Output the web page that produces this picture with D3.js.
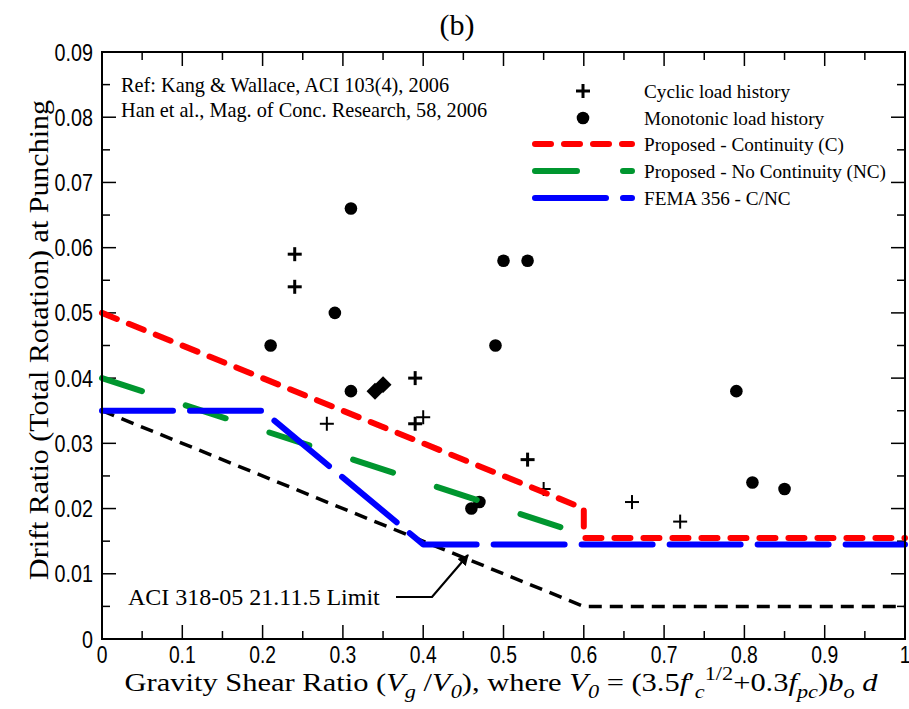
<!DOCTYPE html>
<html><head><meta charset="utf-8">
<script src="https://cdn.jsdelivr.net/npm/d3@7"></script>
<style>
body{margin:0;background:#fff;}
svg{display:block;}
</style></head>
<body>
<svg id="chart" width="909" height="709"></svg>
<script>
// ---------- data ----------
const xTicks = [0,0.1,0.2,0.3,0.4,0.5,0.6,0.7,0.8,0.9,1];
const xTickLabels = ["0","0.1","0.2","0.3","0.4","0.5","0.6","0.7","0.8","0.9","1"];
const yTicks = [0,0.01,0.02,0.03,0.04,0.05,0.06,0.07,0.08,0.09];
const yTickLabels = ["0","0.01","0.02","0.03","0.04","0.05","0.06","0.07","0.08","0.09"];

const cyclicX = [0.24,0.24,0.28,0.39,0.39,0.40,0.53,0.55,0.66,0.72];
const cyclicY = [0.059,0.054,0.033,0.040,0.033,0.034,0.0275,0.023,0.021,0.018];
const monoX = [0.21,0.29,0.31,0.31,0.46,0.47,0.49,0.50,0.53,0.79,0.81,0.85];
const monoY = [0.045,0.050,0.066,0.038,0.020,0.021,0.045,0.058,0.058,0.038,0.024,0.023];
const diamondX = [0.34,0.35];
const diamondY = [0.038,0.039];

const contX = [0,0.6,0.6,1];       const contY = [0.05,0.02,0.0155,0.0155];
const noContX = [0,0.6];           const noContY = [0.04,0.016];
const femaX = [0,0.2,0.4,1];       const femaY = [0.035,0.035,0.0145,0.0145];
const aciX = [0,0.6,1];            const aciY = [0.035,0.005,0.005];

const legendLabels = ["Cyclic load history","Monotonic load history","Proposed - Continuity (C)","Proposed - No Continuity (NC)","FEMA 356 - C/NC"];
const refLines = ["Ref: Kang & Wallace, ACI 103(4), 2006","Han et al., Mag. of Conc. Research, 58, 2006"];

// ---------- layout ----------
const svg = d3.select("#chart");
const L = 102, R = 905, T = 52, B = 639;
const x = d3.scaleLinear().domain([0,1]).range([L,R]);
const y = d3.scaleLinear().domain([0,0.09]).range([B,T]);
const serif = "'Liberation Serif','Times New Roman',serif";
const sans = "'Liberation Sans',Arial,sans-serif";

// ticks (inside, all four sides)
const xMinor = d3.range(0.05,1,0.1);
const yMinor = d3.range(0.005,0.09,0.01);
const tk = svg.append("g").attr("stroke","#000").attr("stroke-width",1.5);
xTicks.slice(1,-1).forEach(v=>{
  tk.append("line").attr("x1",x(v)).attr("x2",x(v)).attr("y1",B).attr("y2",B-14);
  tk.append("line").attr("x1",x(v)).attr("x2",x(v)).attr("y1",T).attr("y2",T+14);
});
xMinor.forEach(v=>{
  tk.append("line").attr("x1",x(v)).attr("x2",x(v)).attr("y1",B).attr("y2",B-8);
  tk.append("line").attr("x1",x(v)).attr("x2",x(v)).attr("y1",T).attr("y2",T+8);
});
yTicks.slice(1,-1).forEach(v=>{
  tk.append("line").attr("x1",L).attr("x2",L+14).attr("y1",y(v)).attr("y2",y(v));
  tk.append("line").attr("x1",R).attr("x2",R-14).attr("y1",y(v)).attr("y2",y(v));
});
yMinor.forEach(v=>{
  tk.append("line").attr("x1",L).attr("x2",L+8).attr("y1",y(v)).attr("y2",y(v));
  tk.append("line").attr("x1",R).attr("x2",R-8).attr("y1",y(v)).attr("y2",y(v));
});

// tick labels (condensed sans)
const sx = 0.84;
svg.append("g").selectAll("text").data(xTicks).join("text")
  .attr("transform",d=>`translate(${x(d)},${B+24}) scale(${sx},1)`).attr("text-anchor","middle")
  .attr("font-family",sans).attr("font-size",23)
  .text((d,i)=>xTickLabels[i]);
svg.append("g").selectAll("text").data(yTicks).join("text")
  .attr("transform",d=>`translate(${L-9},${y(d)+8.5}) scale(${sx},1)`).attr("text-anchor","end")
  .attr("font-family",sans).attr("font-size",23.5)
  .text((d,i)=>yTickLabels[i]);

// ---------- points ----------
const pts = svg.append("g");
monoX.forEach((v,i)=>{
  pts.append("circle").attr("cx",x(v)).attr("cy",y(monoY[i])).attr("r",6.3).attr("fill","#000");
});
cyclicX.forEach((v,i)=>{
  const cx=x(v), cy=y(cyclicY[i]);
  const g=pts.append("g").attr("stroke","#000").attr("stroke-width",i<2||i===3||i===4||i===6?3:2);
  g.append("line").attr("x1",cx-7).attr("x2",cx+7).attr("y1",cy).attr("y2",cy);
  g.append("line").attr("x1",cx).attr("x2",cx).attr("y1",cy-7).attr("y2",cy+7);
});
diamondX.forEach((v,i)=>{
  pts.append("rect").attr("x",-6).attr("y",-6).attr("width",12).attr("height",12)
    .attr("transform",`translate(${x(v)},${y(diamondY[i])}) rotate(45)`).attr("fill","#000");
});

// ---------- lines ----------
function drawLine(xs,ys,color,w,dash,cap){
  const line = d3.line().x(d=>x(d[0])).y(d=>y(d[1]));
  svg.append("path").datum(xs.map((v,i)=>[v,ys[i]]))
    .attr("d",line).attr("fill","none").attr("stroke",color)
    .attr("stroke-width",w).attr("stroke-dasharray",dash)
    .attr("stroke-linecap",cap).attr("stroke-linejoin","round");
}
drawLine(aciX,aciY,"#000",3.5,"13,8","butt");
drawLine(noContX,noContY,"#00962f",6,"42,46","round");
drawLine(femaX,femaY,"#0000ff",6,"71,17","round");
drawLine(contX,contY,"#ff0000",6,"16,13","round");

// frame
svg.append("rect").attr("x",L).attr("y",T).attr("width",R-L).attr("height",B-T)
  .attr("fill","none").attr("stroke","#000").attr("stroke-width",2);

// ---------- legend ----------
const lg = svg.append("g");
const lgY = [91,118,144,171,198];
lg.append("line").attr("x1",576).attr("x2",590).attr("y1",lgY[0]).attr("y2",lgY[0]).attr("stroke","#000").attr("stroke-width",3);
lg.append("line").attr("x1",583).attr("x2",583).attr("y1",lgY[0]-7).attr("y2",lgY[0]+7).attr("stroke","#000").attr("stroke-width",3);
lg.append("circle").attr("cx",583).attr("cy",lgY[1]).attr("r",6.3).attr("fill","#000");
[["#ff0000","16,13"],["#00962f","42,46"],["#0000ff","71,17"]].forEach((s,i)=>{
  lg.append("line").attr("x1",535).attr("x2",632).attr("y1",lgY[i+2]).attr("y2",lgY[i+2])
    .attr("stroke",s[0]).attr("stroke-width",6).attr("stroke-dasharray",s[1]).attr("stroke-linecap","round");
});
lg.selectAll("text.lt").data(legendLabels).join("text")
  .attr("x",644).attr("y",(d,i)=>lgY[i]+6.5).attr("font-family",serif).attr("font-size",19.2)
  .text(d=>d);

// reference note
svg.append("g").selectAll("text").data(refLines).join("text")
  .attr("x",121).attr("y",(d,i)=>92+i*25).attr("font-family",serif).attr("font-size",20.3)
  .text(d=>d);

// ACI annotation
svg.append("text").attr("x",128).attr("y",605).attr("font-family",serif).attr("font-size",24)
  .text("ACI 318-05 21.11.5 Limit");
svg.append("defs").append("marker").attr("id","ah").attr("viewBox","0 0 10 10")
  .attr("refX",9).attr("refY",5).attr("markerWidth",5).attr("markerHeight",5).attr("orient","auto")
  .append("path").attr("d","M0,0 L10,5 L0,10 z").attr("fill","#000");
svg.append("path").attr("d","M396,597 L432,597 L468,555").attr("fill","none")
  .attr("stroke","#000").attr("stroke-width",2.2).attr("marker-end","url(#ah)");

// title
svg.append("text").attr("x",457).attr("y",35).attr("text-anchor","middle")
  .attr("font-family",serif).attr("font-size",30).text("(b)");

// y axis title (fit to target length)
const yt = svg.append("text").attr("text-anchor","middle")
  .attr("font-family",serif).attr("font-size",28).text("Drift Ratio (Total Rotation) at Punching");
{
  const w = yt.node().getComputedTextLength();
  const k = 480 / w;
  yt.attr("transform",`translate(48,340) rotate(-90) scale(${k},1)`);
}

// x axis title: [text, italic, dy, fontSize]
const xt = svg.append("text").attr("text-anchor","middle")
  .attr("font-family",serif).attr("font-size",26);
const parts = [
  ["Gravity Shear Ratio (",0,0,26],["V",1,0,26],["g",1,7,19],[" /",0,-7,26],["V",1,0,26],["0",1,7,19],["), where ",0,-7,26],
  ["V",1,0,26],["0",1,7,19],[" = (3.5",0,-7,26],["f",1,0,26],["′",0,0,26],["c",1,7,19],["1/2",0,-18,19],["+0.3",0,11,26],
  ["f",1,0,26],["pc",1,7,19],[")",0,-7,26],["b",1,0,26],["o",1,7,19],[" ",0,-7,26],["d",1,0,26]
];
parts.forEach(p=>{
  const ts = xt.append("tspan").text(p[0]).attr("font-style",p[1]?"italic":"normal")
    .attr("font-size",p[3]);
  if(p[2]!==0) ts.attr("dy",p[2]);
});
{
  const w = xt.node().getComputedTextLength();
  const k = 753 / w;
  xt.attr("transform",`translate(501,691) scale(${k},1)`);
}
</script>
</body></html>
